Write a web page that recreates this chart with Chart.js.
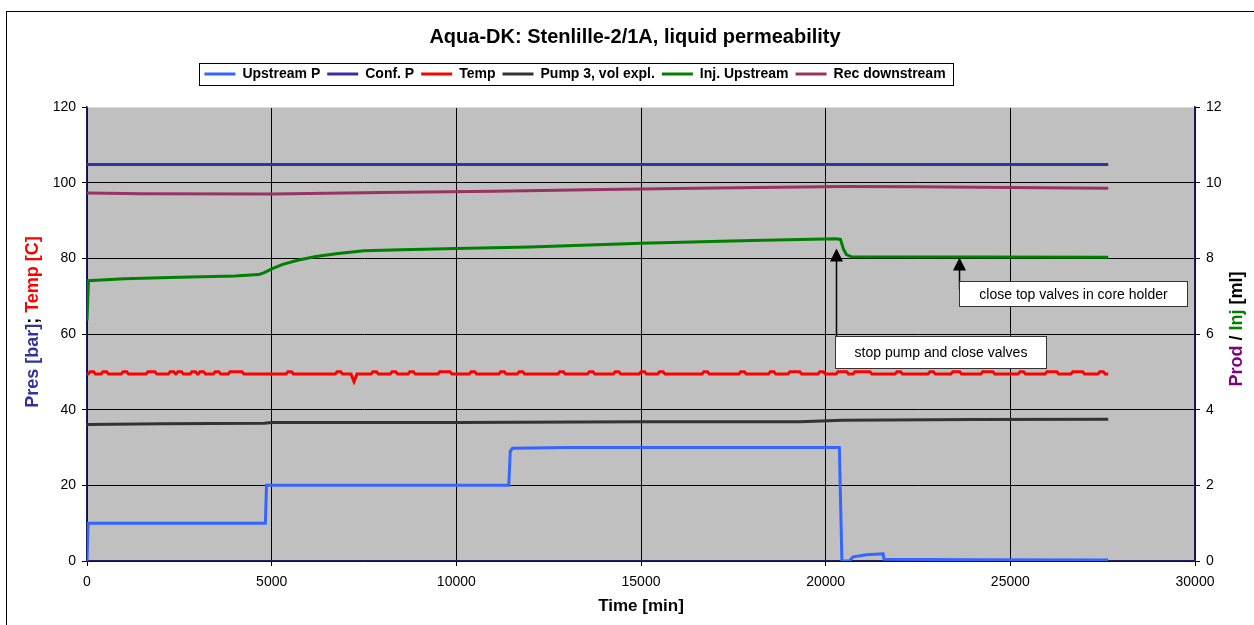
<!DOCTYPE html>
<html>
<head>
<meta charset="utf-8">
<title>Aqua-DK: Stenlille-2/1A, liquid permeability</title>
<script src="https://cdn.jsdelivr.net/npm/chart.js@4.4.0/dist/chart.umd.min.js"></script>
<style>
    html, body { margin: 0; padding: 0; background: #fff; }
    #chart { display: block; }
</style>
</head>
<body>
<canvas id="chart" width="1254" height="625"></canvas>
<script>
// Logged readings as [time (min), value] pairs
// Pressures / temperature / pump volume use the left axis, Inj/Rec volumes the right one
const upstreamP = [
    [0, 0], [30, 10], [4830, 10], [4860, 20], [11420, 20], [11460, 29], [11520, 29.8],
    [13000, 30], [20370, 30], [20440, 0], [20640, 0], [20745, 1.1], [21105, 1.65],
    [21555, 1.9], [21580, 0.45], [24000, 0.35], [27650, 0.25]
];
const confP = [[0, 104.8], [9000, 104.8], [18000, 104.8], [27650, 104.8]];
const temp = [
    [0, 49.4], [31, 49.4], [81, 50.0], [181, 50.0], [231, 49.4], [383, 49.4], [433, 50.0], [533, 50.0], [583, 49.4],
    [925, 49.4], [975, 50.0], [1075, 50.0], [1125, 49.4], [1600, 49.4], [1650, 50.0], [1840, 50.0], [1890, 49.4],
    [2200, 49.4], [2250, 50.0], [2350, 50.0], [2400, 49.4], [2410, 49.4], [2460, 50.0], [2560, 50.0], [2610, 49.4],
    [2790, 49.4], [2840, 50.0], [2940, 50.0], [2990, 49.4], [3010, 49.4], [3060, 50.0], [3160, 50.0], [3210, 49.4],
    [3420, 49.4], [3470, 50.0], [3570, 50.0], [3620, 49.4], [3820, 49.4], [3870, 50.0], [4200, 50.0], [4250, 49.4],
    [5390, 49.4], [5440, 50.0], [5540, 50.0], [5590, 49.4], [6720, 49.4], [6770, 50.0], [6870, 50.0], [6920, 49.4],
    [7150, 49.4], [7230, 47.4], [7310, 49.4],
    [7690, 49.4], [7740, 50.0], [7840, 50.0], [7890, 49.4], [8210, 49.4], [8260, 50.0], [8360, 50.0], [8410, 49.4],
    [8690, 49.4], [8740, 50.0], [8840, 50.0], [8890, 49.4], [9500, 49.4], [9550, 50.0], [9830, 50.0], [9880, 49.4],
    [10350, 49.4], [10400, 50.0], [10500, 50.0], [10550, 49.4], [11150, 49.4], [11200, 50.0], [11300, 50.0], [11350, 49.4],
    [11650, 49.4], [11700, 50.0], [11800, 50.0], [11850, 49.4], [12750, 49.4], [12800, 50.0], [12900, 50.0], [12950, 49.4],
    [13550, 49.4], [13600, 50.0], [13700, 50.0], [13750, 49.4], [14250, 49.4], [14300, 50.0], [14400, 50.0], [14450, 49.4],
    [14950, 49.4], [15000, 50.0], [15100, 50.0], [15150, 49.4], [15450, 49.4], [15500, 50.0], [15600, 50.0], [15650, 49.4],
    [16650, 49.4], [16700, 50.0], [16800, 50.0], [16850, 49.4], [17650, 49.4], [17700, 50.0], [17800, 50.0], [17850, 49.4],
    [18450, 49.4], [18500, 50.0], [18600, 50.0], [18650, 49.4], [18980, 49.4], [19030, 50.0], [19300, 50.0], [19350, 49.4],
    [19790, 49.4], [19840, 50.0], [19940, 50.0], [19990, 49.4], [20280, 49.4], [20330, 50.0], [20570, 50.0], [20620, 49.4],
    [20740, 49.4], [20790, 50.0], [21200, 50.0], [21250, 49.4], [21880, 49.4], [21930, 50.0], [22030, 50.0], [22080, 49.4],
    [22770, 49.4], [22820, 50.0], [22920, 50.0], [22970, 49.4], [23390, 49.4], [23440, 50.0], [23630, 50.0], [23680, 49.4],
    [24200, 49.4], [24250, 50.0], [24530, 50.0], [24580, 49.4], [25210, 49.4], [25260, 50.0], [25360, 50.0], [25410, 49.4],
    [25940, 49.4], [25990, 50.0], [26260, 50.0], [26310, 49.4], [26640, 49.4], [26690, 50.0], [26960, 50.0], [27010, 49.4],
    [27370, 49.4], [27420, 50.0], [27520, 50.0], [27570, 49.4], [27650, 49.4]
];
const pump3 = [
    [0, 36.1], [2000, 36.3], [4800, 36.4], [5000, 36.6], [10000, 36.6], [15000, 36.8],
    [19300, 36.8], [20450, 37.2], [24000, 37.4], [27650, 37.5]
];
const injUpstream = [
    [0, 6.36], [40, 7.41], [1000, 7.46], [2500, 7.50], [4000, 7.53], [4650, 7.57], [4800, 7.62],
    [5000, 7.72], [5300, 7.84], [5700, 7.95], [6200, 8.05], [6800, 8.13], [7500, 8.20], [8500, 8.23],
    [10000, 8.26], [12000, 8.30], [15000, 8.40], [18000, 8.47], [20280, 8.52], [20400, 8.50],
    [20480, 8.25], [20560, 8.10], [20700, 8.04], [27650, 8.03]
];
const recDownstream = [
    [0, 9.73], [1500, 9.71], [5000, 9.70], [8000, 9.74], [11000, 9.77], [14000, 9.82],
    [17000, 9.86], [20500, 9.90], [22500, 9.89], [25000, 9.87], [27650, 9.85]
];

// Callouts, anchored in (time, right-axis) units
const notes = [
    { text: 'stop pump and close valves', tip: [20290, 8.26], box: [20250, 25960, 5.94, 5.09] },
    { text: 'close top valves in core holder', tip: [23605, 8.02], box: [23605, 29780, 7.41, 6.75] }
];

const FONT = '"Liberation Sans", Arial, sans-serif';
const AXIS_LINE = '#202060';

const toXY = rows => rows.map(r => ({ x: r[0], y: r[1] }));

function series(label, rows, color, axis) {
    return {
        label: label,
        data: toXY(rows),
        borderColor: color,
        backgroundColor: color,
        borderWidth: 3,
        pointRadius: 0,
        tension: 0,
        yAxisID: axis
    };
}

// Grey plot area and the outer frame
const backdrop = {
    id: 'backdrop',
    beforeDraw(chart) {
        const { ctx, chartArea: a } = chart;
        ctx.save();
        ctx.fillStyle = '#fff';
        ctx.fillRect(0, 0, chart.width, chart.height);
        ctx.strokeStyle = '#000';
        ctx.lineWidth = 1;
        ctx.strokeRect(6.5, 11.5, chart.width + 10, chart.height + 10);
        ctx.fillStyle = '#c0c0c0';
        ctx.fillRect(a.left, a.top, a.right - a.left, a.bottom - a.top);
        ctx.restore();
    }
};

// Move title and legend sideways/up after layout
const placeHeader = {
    id: 'placeHeader',
    afterLayout(chart) {
        const t = chart.titleBlock;
        const l = chart.legend;
        t.left += 8; t.right += 8;
        l.left -= 52; l.right -= 52;
        l.top -= 16; l.bottom -= 16;
    },
    afterDraw(chart) {
        const l = chart.legend;
        const pad = l.options.labels.padding;
        const x0 = (l.left + pad + l.right - l.lineWidths[0]) / 2;
        const x1 = x0 + l.lineWidths[0] - pad;
        const cy = l.top + pad + 7;
        const ctx = chart.ctx;
        ctx.save();
        ctx.strokeStyle = '#000';
        ctx.lineWidth = 1;
        ctx.strokeRect(Math.round(x0 - 5) + 0.5, Math.round(cy - 11) + 0.5, Math.round(x1 - x0 + 13), 22);
        ctx.restore();
    }
};

// Two-coloured rotated axis titles
function verticalTitle(ctx, parts, cx, cy) {
    ctx.save();
    ctx.translate(cx, cy);
    ctx.rotate(-Math.PI / 2);
    ctx.font = 'bold 18px ' + FONT;
    ctx.textBaseline = 'middle';
    ctx.textAlign = 'left';
    const total = parts.reduce((w, p) => w + ctx.measureText(p[0]).width, 0);
    let x = -total / 2;
    parts.forEach(p => {
        ctx.fillStyle = p[1];
        ctx.fillText(p[0], x, 0);
        x += ctx.measureText(p[0]).width;
    });
    ctx.restore();
}

const axisTitles = {
    id: 'axisTitles',
    afterDraw(chart) {
        const ctx = chart.ctx;
        const mid = (chart.chartArea.top + chart.chartArea.bottom) / 2;
        verticalTitle(ctx, [['Pres [bar]', '#333399'], ['; ', '#000'], ['Temp [C]', '#ff0000']], 33, mid - 12);
        verticalTitle(ctx, [['Prod', '#800080'], [' / ', '#000'], ['Inj', '#008000'], [' [ml]', '#000']], 1237, mid - 5);
    }
};

// Arrows with boxed notes
const callouts = {
    id: 'callouts',
    afterDatasetsDraw(chart) {
        const { ctx, scales } = chart;
        const xs = scales.x, ys = scales.y2;
        ctx.save();
        notes.forEach(n => {
            const tx = Math.round(xs.getPixelForValue(n.tip[0])) + 0.5;
            const ty = ys.getPixelForValue(n.tip[1]);
            const bl = Math.round(xs.getPixelForValue(n.box[0])) + 0.5;
            const br = Math.round(xs.getPixelForValue(n.box[1])) + 0.5;
            const bt = Math.round(ys.getPixelForValue(n.box[2])) + 0.5;
            const bb = Math.round(ys.getPixelForValue(n.box[3])) + 0.5;

            ctx.strokeStyle = '#000';
            ctx.lineWidth = 1.5;
            ctx.beginPath();
            ctx.moveTo(tx, bt + 8);
            ctx.lineTo(tx, ty + 12);
            ctx.stroke();
            ctx.fillStyle = '#000';
            ctx.beginPath();
            ctx.moveTo(tx, ty);
            ctx.lineTo(tx - 6.5, ty + 13);
            ctx.lineTo(tx + 6.5, ty + 13);
            ctx.closePath();
            ctx.fill();

            ctx.fillStyle = '#fff';
            ctx.fillRect(bl, bt, br - bl, bb - bt);
            ctx.strokeStyle = '#333';
            ctx.lineWidth = 1;
            ctx.strokeRect(bl, bt, br - bl, bb - bt);
            ctx.fillStyle = '#000';
            ctx.font = '14px ' + FONT;
            ctx.textAlign = 'center';
            ctx.textBaseline = 'middle';
            ctx.fillText(n.text, (bl + br) / 2, (bt + bb) / 2 + 1);
        });
        ctx.restore();
    }
};

document.addEventListener('DOMContentLoaded', () => {
    const ctx = document.getElementById('chart');

    new Chart(ctx, {
        type: 'line',
        data: {
            datasets: [
                series('Upstream P', upstreamP, '#3366ff', 'y'),
                series('Conf. P', confP, '#333399', 'y'),
                series('Temp', temp, '#ff0000', 'y'),
                series('Pump 3, vol expl.', pump3, '#333333', 'y'),
                series('Inj. Upstream', injUpstream, '#008000', 'y2'),
                series('Rec downstream', recDownstream, '#993366', 'y2')
            ]
        },
        options: {
            responsive: false,
            animation: false,
            devicePixelRatio: 1,
            layout: { padding: 0 },
            plugins: {
                title: {
                    display: true,
                    text: 'Aqua-DK: Stenlille-2/1A, liquid permeability',
                    color: '#000',
                    font: { family: FONT, size: 20, weight: 'bold' },
                    padding: { top: 25, bottom: 27 }
                },
                legend: {
                    display: true,
                    position: 'top',
                    labels: {
                        usePointStyle: true,
                        pointStyle: 'line',
                        pointStyleWidth: 31,
                        padding: 7,
                        color: '#000',
                        font: { family: FONT, size: 14, weight: 'bold' }
                    }
                },
                tooltip: { enabled: false }
            },
            scales: {
                x: {
                    type: 'linear',
                    min: 0,
                    max: 30000,
                    afterFit: s => { s.height = 64; },
                    ticks: {
                        stepSize: 5000,
                        color: '#000',
                        padding: 8,
                        maxRotation: 0,
                        callback: v => String(v),
                        font: { family: FONT, size: 14 }
                    },
                    grid: { color: '#000', tickColor: '#000', tickLength: 5 },
                    border: { color: AXIS_LINE, width: 1.5 },
                    title: {
                        display: true,
                        text: 'Time [min]',
                        color: '#000',
                        font: { family: FONT, size: 17, weight: 'bold' },
                        padding: { top: 0, bottom: 8 }
                    }
                },
                y: {
                    position: 'left',
                    min: 0,
                    max: 120,
                    afterFit: s => { s.width = 87; },
                    ticks: {
                        stepSize: 20,
                        color: '#000',
                        padding: 6,
                        font: { family: FONT, size: 14 }
                    },
                    grid: {
                        color: c => (c.tick && c.tick.value === 120 ? '#d8d8f0' : '#000'),
                        tickColor: '#000',
                        tickLength: 5
                    },
                    border: { color: AXIS_LINE, width: 1.5 }
                },
                y2: {
                    position: 'right',
                    min: 0,
                    max: 12,
                    afterFit: s => { s.width = 59; },
                    ticks: {
                        stepSize: 2,
                        color: '#000',
                        padding: 6,
                        font: { family: FONT, size: 14 }
                    },
                    grid: { drawOnChartArea: false, tickColor: '#000', tickLength: 5 },
                    border: { color: AXIS_LINE, width: 1.5 }
                }
            }
        },
        plugins: [backdrop, placeHeader, axisTitles, callouts]
    });
});
</script>
</body>
</html>
